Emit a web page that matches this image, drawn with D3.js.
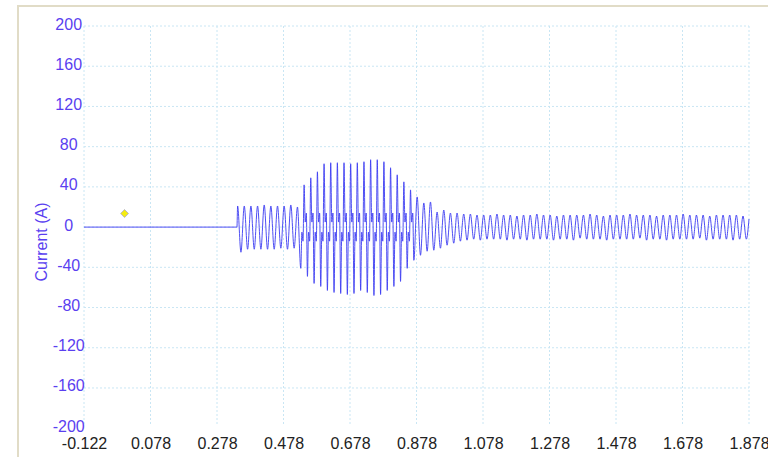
<!DOCTYPE html>
<html lang="en">
<head>
    <meta charset="utf-8">
    <title>Current</title>
    <script type="text/javascript" src="https://cdn.jsdelivr.net/npm/d3@7/dist/d3.min.js"></script>
    <style>
        body { margin: 0; background: #fff; }
        text { font-family: "Liberation Sans", Arial, sans-serif; }
    </style>
</head>
<body>
    <svg width="768" height="457"></svg>
    <script>
        // tick labels
        var xTicks = [-0.122, 0.078, 0.278, 0.478, 0.678, 0.878, 1.078, 1.278, 1.478, 1.678, 1.878];
        var yTicks = [200, 160, 120, 80, 40, 0, -40, -80, -120, -160, -200];

        // waveform (peaks / troughs every half cycle, 50 Hz)
        var onset = 0.338;        // current switches on here
        var halfCycle = 0.01;
        var startA = 0.34;        // first run, about +/-21 A
        var segA = [21, -25, 21, -22, 21, -22, 21, -22, 22, -22, 21, -22, 21, -21, 21, -22, 22, -21, 20];
        var startB = 0.53;        // big burst, one down spike + one up spike per cycle
        var burstDown = [-41, -49, -56, -59, -63, -65, -66, -67, -66, -63, -65, -68, -67, -63, -59, -54, -41];
        var burstUp = [42, 49, 55, 63, 64, 64, 64, 63, 64, 65, 67, 67, 65, 59, 52, 45, 37];
        var burstMidLo = [-5, -14];
        var burstMidHi = [5, 14];
        var startC = 0.87;        // decay
        var decay = [-33, 30, -28, 24, -24, 25, -23, 15, -21, 17, -18, 14, -16];
        var startD = 1.00;        // steady state
        var steady = [
            14, -14, 13, -13, 13, -12, 12, -13, 12, -12,
            12, -12, 13, -12, 12, -13, 12, -12, 11, -12,
            12, -13, 12, -12, 13, -12, 12, -12, 12, -13,
            11, -12, 12, -12, 12, -13, 12, -11, 12, -12,
            13, -12, 12, -12, 11, -13, 12, -12, 12, -12,
            12, -12, 13, -12, 12, -11, 12, -13, 12, -12,
            11, -12, 12, -13, 12, -12, 12, -12, 13, -12,
            12, -12, 12, -11, 12, -13, 11, -12, 12, -12,
            12, -12, 12, -13, 12, -12, 11, -12
        ];
        var lastPoint = [1.878, 8];
        var marker = [0.0, 13.5];

        var svg = d3.select("svg");
        var x = d3.scaleLinear().domain([-0.122, 1.878]).range([84, 749]);
        var y = d3.scaleLinear().domain([-200, 200]).range([428.2, 26]);

        // outer frame
        svg.append("rect")
            .attr("x", 18).attr("y", 6).attr("width", 800).attr("height", 500)
            .attr("fill", "#fff").attr("stroke", "#e1dcc7").attr("stroke-width", 2);

        // grid
        svg.append("g").selectAll("line")
            .data(xTicks)
            .enter().append("line")
            .attr("x1", function (d) { return x(d); })
            .attr("x2", function (d) { return x(d); })
            .attr("y1", y(200)).attr("y2", 425)
            .attr("stroke", "#c9e6f4").attr("stroke-dasharray", "2,2");
        svg.append("g").selectAll("line")
            .data(yTicks.filter(function (d) { return d > -200; }))
            .enter().append("line")
            .attr("x1", x(-0.122)).attr("x2", x(1.878))
            .attr("y1", function (d) { return y(d); })
            .attr("y2", function (d) { return y(d); })
            .attr("stroke", "#c9e6f4").attr("stroke-dasharray", "2,2");

        // axes (labels only), plain hyphen for minus
        var gx = svg.append("g")
            .call(d3.axisBottom(x).tickValues(xTicks).tickSize(0)
                .tickFormat(function (d) { return d.toFixed(3); }));
        gx.select(".domain").remove();
        gx.selectAll("text")
            .attr("y", 449).attr("dy", null)
            .attr("fill", "#222").style("font-size", "16px");

        var gy = svg.append("g")
            .call(d3.axisLeft(y).tickValues(yTicks).tickSize(0)
                .tickFormat(function (d) { return String(d); }));
        gy.select(".domain").remove();
        gy.selectAll(".tick").attr("transform", function (d) { return "translate(0," + (y(d) + 3.5) + ")"; });
        gy.selectAll("text")
            .attr("x", 68.7).attr("dy", null).attr("text-anchor", "middle")
            .attr("fill", "#5a3ff0").style("font-size", "16px");

        svg.append("text")
            .attr("transform", "translate(41,242) rotate(-90)")
            .attr("text-anchor", "middle").attr("dominant-baseline", "central")
            .attr("fill", "#5a3ff0").style("font-size", "16px")
            .text("Current (A)");

        // build the trace
        var pts = [[-0.122, 0], [onset, 0]];
        segA.forEach(function (v, i) { pts.push([startA + i * halfCycle, v]); });
        burstDown.forEach(function (v, k) {
            var t = startB + k * 2 * halfCycle;
            var s = halfCycle / 3;
            pts.push([t, v]);
            pts.push([t + s, burstMidLo[0]]);
            pts.push([t + 2 * s, burstMidLo[1]]);
            pts.push([t + 3 * s, burstUp[k]]);
            pts.push([t + 4 * s, burstMidHi[0]]);
            pts.push([t + 5 * s, burstMidHi[1]]);
        });
        decay.forEach(function (v, i) { pts.push([startC + i * halfCycle, v]); });
        steady.forEach(function (v, i) { pts.push([startD + i * halfCycle, v]); });
        pts.push(lastPoint);

        var line = d3.line()
            .x(function (d) { return x(d[0]); })
            .y(function (d) { return y(d[1]); })
            .curve(d3.curveMonotoneX);

        svg.append("path")
            .datum(pts)
            .attr("d", line)
            .attr("fill", "none")
            .attr("stroke", "#3c3cf2")
            .attr("stroke-opacity", 0.9)
            .attr("stroke-width", 1);

        svg.append("path")
            .attr("d", d3.symbol(d3.symbolDiamond2, 40)())
            .attr("transform", "translate(" + x(marker[0]) + "," + y(marker[1]) + ")")
            .attr("fill", "#f4ec10").attr("stroke", "#a8a8d0").attr("stroke-width", 0.8);
    </script>
</body>
</html>
